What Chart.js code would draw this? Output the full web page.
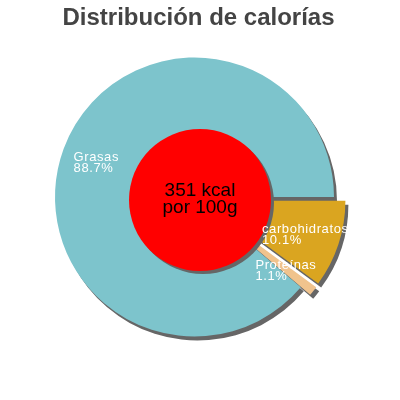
<!DOCTYPE html>
<html>
<head>
<meta charset="utf-8">
<script src="https://cdn.jsdelivr.net/npm/chart.js@4.4.0/dist/chart.umd.min.js"></script>
<style>
  html, body { margin: 0; padding: 0; background: #fff; }
</style>
</head>
<body>
<canvas id="pie" width="400" height="400"></canvas>
<script>
// data (order starts at 3 o'clock, clockwise)
var categories = ["carbohidratos", "Proteínas", "Grasas"];
var percents = [10.1, 1.1, 88.7];
var sliceColors = ["#daa520", "#f0c38d", "#7dc4cc"];
var titleText = "Distribución de calorías";
var centerLines = ["351 kcal", "por 100g"];

var FONT = "'Liberation Sans', Arial, sans-serif";
var explode = [12, 12, 0];
var shadowX = 3, shadowY = 4;

// pulls the small slices outwards and paints the drop shadows
var pieDecor = {
  id: "pieDecor",
  beforeDatasetsDraw: function (chart) {
    var ctx = chart.ctx;
    var area = chart.chartArea;
    var cx = (area.left + area.right) / 2;
    var cy = (area.top + area.bottom) / 2;
    var arcs = chart.getDatasetMeta(0).data;

    arcs.forEach(function (arc, i) {
      var mid = (arc.startAngle + arc.endAngle) / 2;
      arc.x = cx + Math.cos(mid) * explode[i];
      arc.y = cy + Math.sin(mid) * explode[i];
    });

    ctx.save();
    ctx.fillStyle = "#666";
    arcs.forEach(function (arc) {
      ctx.beginPath();
      ctx.moveTo(arc.x + shadowX, arc.y + shadowY);
      ctx.arc(arc.x + shadowX, arc.y + shadowY, arc.outerRadius, arc.startAngle, arc.endAngle);
      ctx.closePath();
      ctx.fill();
    });
    ctx.restore();
  },
  afterDatasetsDraw: function (chart) {
    var ctx = chart.ctx;
    var arcs = chart.getDatasetMeta(0).data;
    var mx = chart.width / 2, my = chart.height / 2;

    ctx.save();
    // red disc in the middle
    ctx.fillStyle = "#666";
    ctx.beginPath();
    ctx.arc(mx + 3, my + 3, 71, 0, Math.PI * 2);
    ctx.fill();
    ctx.fillStyle = "#ff0000";
    ctx.beginPath();
    ctx.arc(mx, my, 71, 0, Math.PI * 2);
    ctx.fill();

    ctx.fillStyle = "#000";
    ctx.font = "19px " + FONT;
    ctx.textAlign = "center";
    ctx.textBaseline = "alphabetic";
    ctx.fillText(centerLines[0], mx, my - 4);
    ctx.fillText(centerLines[1], mx, my + 13);

    // slice labels
    ctx.font = "13px " + FONT;
    ctx.textAlign = "left";
    ctx.fillStyle = "#fff";
    ctx.letterSpacing = "0.6px";
    arcs.forEach(function (arc, i) {
      var mid = (arc.startAngle + arc.endAngle) / 2;
      var r = arc.outerRadius * 0.75;
      var ax = arc.x + Math.cos(mid) * r;
      var ay = arc.y + Math.sin(mid) * r;
      var l1 = categories[i];
      var l2 = percents[i].toFixed(1) + "%";
      var w = Math.max(ctx.measureText(l1).width, ctx.measureText(l2).width);
      ctx.fillText(l1, ax - w / 2, ay);
      ctx.fillText(l2, ax - w / 2, ay + 11);
    });
    ctx.letterSpacing = "0px";

    // title
    ctx.fillStyle = "#444";
    ctx.font = "bold 24px " + FONT;
    ctx.textAlign = "center";
    ctx.fillText(titleText, 198.5, 25);
    ctx.restore();
  }
};

new Chart(document.getElementById("pie"), {
  type: "pie",
  data: {
    labels: categories,
    datasets: [{
      data: percents,
      backgroundColor: sliceColors,
      borderWidth: 0
    }]
  },
  options: {
    responsive: false,
    animation: false,
    events: [],
    rotation: 90,
    radius: 139.5,
    layout: { padding: { left: 0, right: 11, top: 0, bottom: 6 } },
    plugins: {
      legend: { display: false },
      tooltip: { enabled: false },
      title: { display: false }
    }
  },
  plugins: [pieDecor]
});
</script>
</body>
</html>
